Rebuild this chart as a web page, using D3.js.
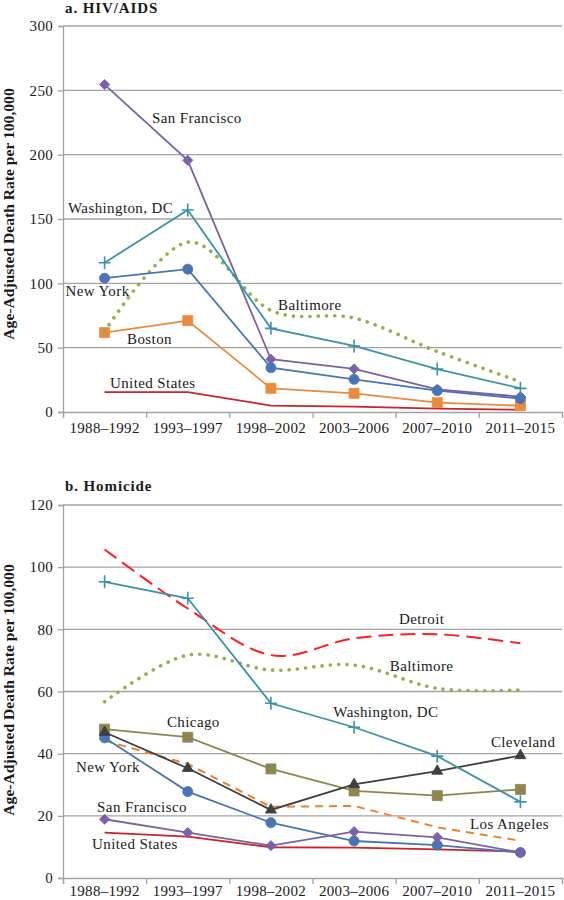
<!DOCTYPE html>
<html>
<head>
<meta charset="utf-8">
<script src="https://cdn.jsdelivr.net/npm/d3@7"></script>
<style>
  html, body { margin: 0; padding: 0; background: #ffffff; }
  svg { display: block; }
  text { font-family: "Liberation Serif", "Times New Roman", serif; fill: #1a1a1a; }
</style>
</head>
<body>
<script>
// ---------- data ----------
const categories = ["1988–1992", "1993–1997", "1998–2002", "2003–2006", "2007–2010", "2011–2015"];

const hivTicks = [0, 50, 100, 150, 200, 250, 300];
const homTicks = [0, 20, 40, 60, 80, 100, 120];

// a. HIV/AIDS
const hivUnitedStates  = [15.5, 15.5, 5.0, 4.2, 2.6, 1.8];
const hivBoston        = [61.7, 71.0, 18.4, 14.5, 7.3, 4.9];
const hivBaltimore     = [62.5, 132.0, 79.0, 73.0, 47.0, 23.5];
const hivNewYork       = [104.0, 111.0, 34.4, 25.4, 16.6, 10.5];
const hivWashingtonDC  = [116.0, 157.0, 65.0, 51.3, 33.4, 18.4];
const hivSanFrancisco  = [254.5, 195.6, 41.0, 33.5, 17.6, 11.9];

// b. Homicide
const homUnitedStates  = [14.6, 13.3, 9.9, 9.8, 9.2, 8.5];
const homLosAngeles    = [44.2, 36.7, 22.9, 23.2, 16.3, 12.0];
const homNewYork       = [45.1, 27.8, 17.8, 11.9, 10.6, 8.2];
const homSanFrancisco  = [18.9, 14.6, 10.4, 14.9, 13.1, 8.2];
const homChicago       = [47.9, 45.3, 35.1, 28.0, 26.5, 28.5];
const homCleveland     = [46.9, 35.3, 21.9, 30.1, 34.4, 39.4];
const homBaltimore     = [56.7, 71.7, 66.9, 68.5, 61.0, 60.5];
const homDetroit       = [105.7, 86.7, 71.7, 77.1, 78.4, 75.5];
const homWashingtonDC  = [95.3, 90.0, 56.2, 48.5, 39.2, 24.5];

// label anchors: [text, position in category units from left edge, value]
const hivLabels = [
  ["San Francisco", 1.07, 224.6],
  ["Washington, DC", 0.06, 154.7],
  ["New York", 0.03, 90.2],
  ["Boston", 0.77, 52.8],
  ["United States", 0.565, 18.7],
  ["Baltimore", 2.585, 79.3]
];
const homLabels = [
  ["Detroit", 4.04, 81.7],
  ["Baltimore", 3.93, 66.6],
  ["Chicago", 1.25, 48.6],
  ["Washington, DC", 3.25, 51.8],
  ["Cleveland", 5.145, 42.1],
  ["New York", 0.156, 34.1],
  ["San Francisco", 0.41, 21.2],
  ["Los Angeles", 4.894, 15.8],
  ["United States", 0.35, 9.3]
];

// ---------- styles ----------
const C = {
  us: "#cc2229", boston: "#ea8a3c", balt: "#8fb24d", ny: "#4a74b4",
  dc: "#3c93a8", sf: "#7b62a6", chicago: "#8f8550", cleveland: "#3f3f3f",
  la: "#f0802c", detroit: "#ff1d1d"
};

const hivSeries = [
  { values: hivUnitedStates, color: C.us, marker: null },
  { values: hivBoston, color: C.boston, marker: "square" },
  { values: hivBaltimore, color: C.balt, marker: null, dotted: true, smooth: true },
  { values: hivSanFrancisco, color: C.sf, marker: "diamond" },
  { values: hivNewYork, color: C.ny, marker: "circle" },
  { values: hivWashingtonDC, color: C.dc, marker: "plus" }
];
const homSeries = [
  { values: homUnitedStates, color: C.us, marker: null },
  { values: homLosAngeles, color: C.la, marker: null, dash: "8,6" },
  { values: homNewYork, color: C.ny, marker: "circle" },
  { values: homSanFrancisco, color: C.sf, marker: "diamond" },
  { values: homChicago, color: C.chicago, marker: "square" },
  { values: homCleveland, color: C.cleveland, marker: "triangle" },
  { values: homBaltimore, color: C.balt, marker: null, dotted: true, smooth: true },
  { values: homDetroit, color: C.detroit, marker: null, dash: "15,7", smooth: true },
  { values: homWashingtonDC, color: C.dc, marker: "plus" }
];

const W = 564, H = 900;
const svg = d3.select("body").append("svg").attr("width", W).attr("height", H);

function drawPanel(opts) {
  const { top, bottom, ticks, series, labels, title, titleY, axisLabelY, xPad } = opts;
  const left = 63, right = 562;
  const g = svg.append("g");
  const x = d3.scaleBand().domain(categories).range([left, right]);
  const xu = d3.scaleLinear().domain([0, categories.length]).range([left, right]);
  const y = d3.scaleLinear().domain([d3.min(ticks), d3.max(ticks)]).range([bottom, top]);
  const cx = c => x(c) + x.bandwidth() / 2;

  // gridlines
  g.append("g").selectAll("line").data(ticks.filter(t => t > 0)).join("line")
    .attr("x1", left).attr("x2", right)
    .attr("y1", d => y(d)).attr("y2", d => y(d))
    .attr("stroke", "#a3a3a3").attr("stroke-width", 1.3);

  // y axis
  const ya = g.append("g").attr("transform", `translate(${left},0)`)
    .call(d3.axisLeft(y).tickValues(ticks).tickSize(5).tickPadding(5).tickFormat(d3.format("d")));
  ya.select(".domain").attr("stroke", "#a3a3a3").attr("stroke-width", 1.3);
  ya.selectAll(".tick line").attr("stroke", "#a3a3a3").attr("stroke-width", 1.3);
  ya.selectAll("text").style("font-size", "15px").style("letter-spacing", "0.3px")
    .attr("fill", "#1a1a1a").style("font-family", "Liberation Serif, serif");

  // x axis boundary ticks
  const xb = g.append("g").attr("transform", `translate(0,${bottom})`)
    .call(d3.axisBottom(xu).tickValues(d3.range(categories.length + 1)).tickSize(6).tickFormat(""));
  xb.select(".domain").attr("stroke", "#a3a3a3").attr("stroke-width", 1.3);
  xb.selectAll(".tick line").attr("stroke", "#a3a3a3").attr("stroke-width", 1.3);
  // x labels
  const xl = g.append("g").attr("transform", `translate(0,${bottom})`)
    .call(d3.axisBottom(x).tickSize(0).tickPadding(xPad));
  xl.select(".domain").remove();
  xl.selectAll("text").style("font-size", "15px").style("letter-spacing", "0.3px")
    .attr("fill", "#1a1a1a").style("font-family", "Liberation Serif, serif");

  // lines
  series.forEach(s => {
    const line = d3.line()
      .x((d, i) => cx(categories[i]))
      .y(d => y(d))
      .curve(s.smooth ? d3.curveCardinal.tension(0) : d3.curveLinear);
    const p = g.append("path").datum(s.values).attr("d", line)
      .attr("fill", "none").attr("stroke", s.color);
    if (s.dotted) {
      p.attr("stroke-width", 3.6).attr("stroke-dasharray", "0.1,8.2").attr("stroke-linecap", "round");
    } else if (s.dash) {
      p.attr("stroke-width", 2).attr("stroke-dasharray", s.dash);
    } else {
      p.attr("stroke-width", 1.8);
    }
    if (s.marker) {
      const mg = g.append("g");
      s.values.forEach((v, i) => {
        const px = cx(categories[i]), py = y(v);
        if (s.marker === "plus") {
          mg.append("path").attr("d", `M${px - 6},${py}H${px + 6}M${px},${py - 6.5}V${py + 6.5}`)
            .attr("stroke", s.color).attr("stroke-width", 1.6).attr("fill", "none");
        } else {
          let type = d3.symbolCircle, size = 80, rot = 0;
          if (s.marker === "square") { type = d3.symbolSquare; size = 100; }
          if (s.marker === "diamond") { type = d3.symbolSquare; size = 52; rot = 45; }
          if (s.marker === "triangle") { type = d3.symbolTriangle; size = 52; }
          mg.append("path").attr("d", d3.symbol(type, size)())
            .attr("transform", `translate(${px},${py}) rotate(${rot})`)
            .attr("fill", s.color).attr("stroke", s.color).attr("stroke-width", 0.8);
        }
      });
    }
  });

  // series labels
  g.append("g").selectAll("text").data(labels).join("text")
    .attr("x", d => xu(d[1])).attr("y", d => y(d[2]))
    .style("font-size", "15px").style("letter-spacing", "0.4px")
    .text(d => d[0]);

  // title
  g.append("text").attr("x", left + 2).attr("y", titleY)
    .style("font-size", "15px").style("font-weight", "bold").style("letter-spacing", "0.9px")
    .text(title);

  // y-axis title
  g.append("text")
    .attr("transform", `translate(14,${axisLabelY}) rotate(-90)`)
    .attr("text-anchor", "middle")
    .style("font-size", "15.6px").style("font-weight", "bold")
    .text("Age-Adjusted Death Rate per 100,000");
}

drawPanel({ top: 26, bottom: 412, ticks: hivTicks, series: hivSeries, labels: hivLabels,
  title: "a. HIV/AIDS", titleY: 13, axisLabelY: 214, xPad: 10 });
drawPanel({ top: 505, bottom: 878, ticks: homTicks, series: homSeries, labels: homLabels,
  title: "b. Homicide", titleY: 491, axisLabelY: 690, xPad: 7 });
</script>
</body>
</html>
